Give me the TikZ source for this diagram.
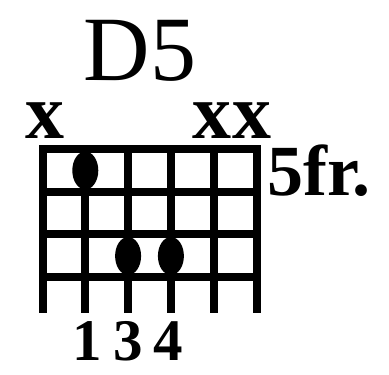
\documentclass[tikz,border=0pt]{standalone}
\usepackage{fontspec}
\setmainfont{Liberation Serif}
\usepackage{tikz}
\usetikzlibrary{shapes.geometric, positioning}

\begin{document}
\begin{tikzpicture}[
    x=1pt, y=-1pt,
    fretline/.style={line width=8pt, line cap=rect, black},
    fingerdot/.style={ellipse, fill=black, minimum width=26pt, minimum height=38pt, inner sep=0pt},
    chordname/.style={anchor=base, inner sep=0pt, font=\fontsize{92}{92}\selectfont},
    mutemark/.style={anchor=base, inner sep=0pt, font=\fontsize{78}{78}\selectfont\bfseries},
    fretlabel/.style={anchor=base west, inner sep=0pt, font=\fontsize{72}{72}\selectfont\bfseries},
    fingering/.style={anchor=base, inner sep=0pt, font=\fontsize{59}{59}\selectfont\bfseries}
]
    \useasboundingbox (0,0) rectangle (389,375);

    \node[chordname] (name) at (140,80) {D5};

    % strings and frets
    \foreach \s in {0,...,5}
        \draw[fretline] ({42.5+42.8*\s},149) -- ({42.5+42.8*\s},309);
    \foreach \f in {0,...,3}
        \draw[fretline] (42.5,{149+42.7*\f}) -- (256.5,{149+42.7*\f});

    \node[mutemark] (m1) at (45,138) {x};
    \node[mutemark] (m5) at (212,138) {x};
    \node[mutemark] (m6) at (252,138) {x};

    \node[fretlabel] (fr) at (267,195) {5fr.};

    \node[fingerdot] (d2) at (85.3,170.5) {};
    \node[fingerdot] (d3) at (128.1,256) {};
    \node[fingerdot] (d4) at (170.9,256) {};

    \node[fingering] (f1) at (87,360) {1};
    \node[fingering] (f3) at (128,360) {3};
    \node[fingering] (f4) at (168,360) {4};
\end{tikzpicture}
\end{document}
